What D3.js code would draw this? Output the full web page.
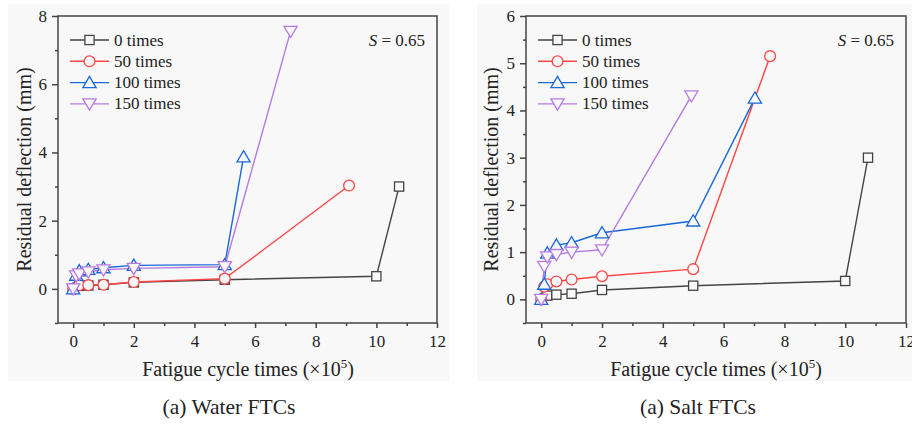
<!DOCTYPE html>
<html><head><meta charset="utf-8">
<script src="https://cdn.jsdelivr.net/npm/d3@7"></script>
<style>
body{margin:0;background:#fff;}
svg, svg text{font-family:"Liberation Serif","Times New Roman","DejaVu Serif",serif !important;}
</style></head>
<body><svg id="c" width="912" height="425" font-family="Liberation Serif, Times New Roman, serif"></svg>
<script>
// ---- data ----
const seriesNames = ["0 times", "50 times", "100 times", "150 times"];
const xTickValues = [0, 2, 4, 6, 8, 10, 12];
const waterYTicks = [0, 2, 4, 6, 8];
const saltYTicks = [0, 1, 2, 3, 4, 5, 6];

// Water FTCs
const water0X = [0, 0.2, 0.5, 1, 2, 5, 10, 10.75];
const water0Y = [0, 0.09, 0.1, 0.12, 0.19, 0.27, 0.37, 3.0];
const water50X = [0, 0.2, 0.5, 1, 2, 5, 9.1];
const water50Y = [0, 0.11, 0.11, 0.12, 0.2, 0.3, 3.03];
const water100X = [0, 0.1, 0.2, 0.5, 1, 2, 5, 5.62];
const water100Y = [0, 0.4, 0.53, 0.57, 0.62, 0.69, 0.71, 3.87];
const water150X = [0, 0.1, 0.2, 0.5, 1, 2, 5, 7.17];
const water150Y = [0, 0.38, 0.44, 0.5, 0.56, 0.6, 0.65, 7.55];

// Salt FTCs
const salt0X = [0, 0.2, 0.5, 1, 2, 5, 10, 10.75];
const salt0Y = [0, 0.08, 0.1, 0.12, 0.2, 0.29, 0.39, 3.0];
const salt50X = [0, 0.1, 0.2, 0.5, 1, 2, 5, 7.53];
const salt50Y = [0, 0.27, 0.32, 0.38, 0.42, 0.49, 0.64, 5.15];
const salt100X = [0, 0.1, 0.2, 0.5, 1, 2, 5, 7.03];
const salt100Y = [0, 0.32, 0.98, 1.15, 1.2, 1.41, 1.66, 4.26];
const salt150X = [0, 0.1, 0.2, 0.5, 1, 2, 4.94];
const salt150Y = [0, 0.7, 0.9, 0.95, 1.0, 1.05, 4.31];

const colors = ["#444444", "#fc4646", "#1a68d6", "#b67be0"];
const shapes = ["square", "circle", "triangle", "triangleDown"];

const panels = [
  {left: 58, right: 437, top: 16, bottom: 323, yDomain: [-1, 8], yTicks: waterYTicks,
   yMinor: [-1,1,3,5,7], bg: [8, 4, 449, 381], caption: "(a) Water FTCs", capX: 229, xTitleX: 248, yTitleX: 25,
   series: [[water0X, water0Y], [water50X, water50Y], [water100X, water100Y], [water150X, water150Y]]},
  {left: 526, right: 906, top: 16, bottom: 323, yDomain: [-0.5, 6], yTicks: saltYTicks,
   yMinor: [-0.5,0.5,1.5,2.5,3.5,4.5,5.5], bg: [477, 4, 912, 381], caption: "(a) Salt FTCs", capX: 698, xTitleX: 716, yTitleX: 492,
   series: [[salt0X, salt0Y], [salt50X, salt50Y], [salt100X, salt100Y], [salt150X, salt150Y]]}
];

const FONT = "Liberation Serif, Times New Roman, serif";
const svg = d3.select("#c");
const BG = "#f8f8f8";
const AX = "#444";

function marker(g, shape, x, y, color) {
  let el;
  if (shape === "square") {
    el = g.append("rect").attr("x", x - 4.6).attr("y", y - 4.6).attr("width", 9.2).attr("height", 9.2);
  } else if (shape === "circle") {
    el = g.append("circle").attr("cx", x).attr("cy", y).attr("r", 5.4);
  } else if (shape === "triangle") {
    el = g.append("path").attr("d", `M${x},${y-6.2} L${x+6.6},${y+5} L${x-6.6},${y+5} Z`);
  } else {
    el = g.append("path").attr("d", `M${x},${y+6.2} L${x+6.6},${y-5} L${x-6.6},${y-5} Z`);
  }
  el.attr("fill", BG).attr("stroke", color).attr("stroke-width", 1.3);
}

function txt(sel) { return sel.attr("font-family", FONT).attr("fill", "#222"); }

panels.forEach(p => {
  svg.append("rect").attr("x", p.bg[0]).attr("y", p.bg[1]).attr("width", p.bg[2] - p.bg[0])
    .attr("height", p.bg[3] - p.bg[1]).attr("fill", BG);

  const x = d3.scaleLinear().domain([-0.5, 12]).range([p.left, p.right]);
  const y = d3.scaleLinear().domain(p.yDomain).range([p.bottom, p.top]);

  // frame
  svg.append("rect").attr("x", p.left).attr("y", p.top).attr("width", p.right - p.left)
    .attr("height", p.bottom - p.top).attr("fill", "none").attr("stroke", AX).attr("stroke-width", 1.5);

  // x axis
  const xa = svg.append("g").attr("transform", `translate(0,${p.bottom})`)
    .call(d3.axisBottom(x).tickValues(xTickValues).tickSize(5).tickSizeOuter(0).tickPadding(7).tickFormat(d3.format("d")));
  xa.attr("font-family", FONT);
  xa.select(".domain").remove();
  xa.selectAll("line").attr("stroke", AX).attr("stroke-width", 1.5);
  txt(xa.selectAll("text")).attr("font-size", 17);
  const xm = svg.append("g").attr("transform", `translate(0,${p.bottom})`)
    .call(d3.axisBottom(x).tickValues([1,3,5,7,9,11]).tickSize(3).tickFormat(""));
  xm.select(".domain").remove();
  xm.selectAll("line").attr("stroke", AX).attr("stroke-width", 1.5);

  // y axis
  const ya = svg.append("g").attr("transform", `translate(${p.left},0)`)
    .call(d3.axisLeft(y).tickValues(p.yTicks).tickSize(6).tickSizeOuter(0).tickPadding(5).tickFormat(d3.format("d")));
  ya.attr("font-family", FONT);
  ya.select(".domain").remove();
  ya.selectAll("line").attr("stroke", AX).attr("stroke-width", 1.5);
  txt(ya.selectAll("text")).attr("font-size", 17);
  const ym = svg.append("g").attr("transform", `translate(${p.left},0)`)
    .call(d3.axisLeft(y).tickValues(p.yMinor).tickSize(3).tickFormat(""));
  ym.select(".domain").remove();
  ym.selectAll("line").attr("stroke", AX).attr("stroke-width", 1.5);

  // series
  const line = d3.line().x(d => x(d[0])).y(d => y(d[1]));
  p.series.forEach((s, i) => {
    const pts = s[0].map((v, k) => [v, s[1][k]]);
    svg.append("path").attr("d", line(pts)).attr("fill", "none").attr("stroke", colors[i]).attr("stroke-width", 1.4);
  });
  p.series.forEach((s, i) => {
    const g = svg.append("g");
    s[0].forEach((v, k) => marker(g, shapes[i], x(v), y(s[1][k]), colors[i]));
  });

  // legend
  const lx = p.left + 12;
  seriesNames.forEach((n, i) => {
    const cy = 40 + i * 21.3;
    svg.append("line").attr("x1", lx).attr("x2", lx + 39).attr("y1", cy).attr("y2", cy)
      .attr("stroke", colors[i]).attr("stroke-width", 1.4);
    marker(svg.append("g"), shapes[i], lx + 19.5, cy, colors[i]);
    txt(svg.append("text")).attr("x", lx + 44).attr("y", cy + 5.5).attr("font-size", 17).text(n);
  });

  // S = 0.65
  const st = txt(svg.append("text")).attr("x", p.right - 12).attr("y", 45.5).attr("text-anchor", "end")
    .attr("font-size", 17);
  st.append("tspan").attr("font-style", "italic").text("S");
  st.append("tspan").text(" = 0.65");

  // axis titles
  const xt = txt(svg.append("text")).attr("x", p.xTitleX).attr("y", 376).attr("text-anchor", "middle")
    .attr("font-size", 20);
  xt.append("tspan").text("Fatigue cycle times (×10");
  xt.append("tspan").attr("font-size", 13).attr("dy", -8).text("5");
  xt.append("tspan").attr("dy", 8).text(")");

  txt(svg.append("text")).attr("transform", `translate(${p.yTitleX + 6},${(p.top + p.bottom) / 2}) rotate(-90)`)
    .attr("text-anchor", "middle").attr("font-size", 20).text("Residual deflection (mm)");

  txt(svg.append("text")).attr("x", p.capX).attr("y", 413.5).attr("text-anchor", "middle")
    .attr("font-size", 21.5).text(p.caption);
});
</script></body></html>
